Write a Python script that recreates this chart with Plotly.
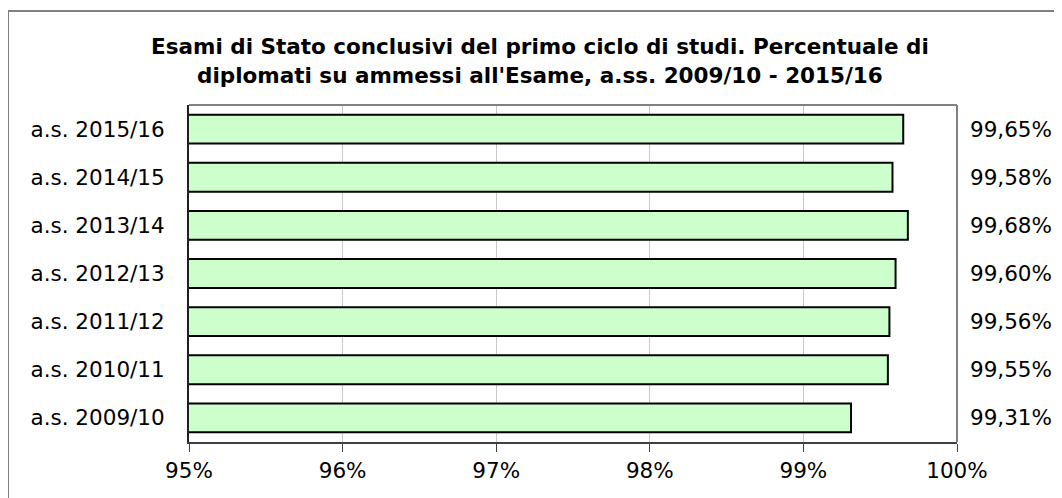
import plotly.graph_objects as go

# Data
categories = ["a.s. 2009/10", "a.s. 2010/11", "a.s. 2011/12", "a.s. 2012/13",
              "a.s. 2013/14", "a.s. 2014/15", "a.s. 2015/16"]
values = [99.31, 99.55, 99.56, 99.60, 99.68, 99.58, 99.65]
x_tickvals = [95, 96, 97, 98, 99, 100]
x_ticktext = ["95%", "96%", "97%", "98%", "99%", "100%"]
title_lines = ["Esami di Stato conclusivi del primo ciclo di studi. Percentuale di",
               "diplomati su ammessi all'Esame, a.ss. 2009/10 - 2015/16"]

OFF = 8  # page body margin
W, H = 1062 - OFF, 498 - OFF
# plot area in page pixels: x 189..957, y 105..442
L = 189 - OFF
T = 105 - OFF
R = W - (957 - OFF)
B = H - (442 - OFF)
PW = W - L - R
PH = H - T - B

def px(x):
    return (x - OFF - L) / PW

def py(y):
    return 1 - (y - OFF - T) / PH

FONT = "DejaVu Sans"

fig = go.Figure()
fig.add_trace(go.Bar(
    y=categories, x=values, orientation="h",
    marker=dict(color="#CCFFCC", line=dict(color="#000000", width=2)),
    hoverinfo="x+y",
))

annotations = []
for c, v in zip(categories, values):
    annotations.append(dict(
        xref="paper", yref="y", x=px(1011), y=c,
        text=f"{v:.2f}%".replace(".", ","), showarrow=False,
        xanchor="center", yanchor="middle",
        font=dict(family=FONT, size=21.5, color="#000000"),
    ))
annotations.append(dict(
    xref="paper", yref="paper", x=px(540), y=py(46), text="<b>" + title_lines[0] + "</b>",
    showarrow=False, xanchor="center", yanchor="middle",
    font=dict(family=FONT, size=21.5, color="#000000")))
annotations.append(dict(
    xref="paper", yref="paper", x=px(540), y=py(75), text="<b>" + title_lines[1] + "</b>",
    showarrow=False, xanchor="center", yanchor="middle",
    font=dict(family=FONT, size=21.5, color="#000000")))

shapes = [
    # outer frame (left and top edges visible)
    dict(type="line", xref="paper", yref="paper", x0=px(8), x1=px(1080), y0=py(11), y1=py(11),
         line=dict(color="#808080", width=2)),
    dict(type="line", xref="paper", yref="paper", x0=px(8), x1=px(8), y0=py(11), y1=py(520),
         line=dict(color="#808080", width=2)),
    # plot area top and right borders
    dict(type="line", xref="paper", yref="paper", x0=0, x1=1, y0=1, y1=1,
         line=dict(color="#808080", width=2)),
    dict(type="line", xref="paper", yref="paper", x0=1, x1=1, y0=0, y1=1,
         line=dict(color="#808080", width=2)),
]

fig.update_layout(
    width=W, height=H,
    margin=dict(l=L, r=R, t=T, b=B, autoexpand=False),
    paper_bgcolor="white", plot_bgcolor="white",
    showlegend=False, bargap=0.4,
    font=dict(family=FONT, size=21.5, color="#000000"),
    annotations=annotations, shapes=shapes,
)
fig.update_xaxes(
    range=[95, 100], tickvals=x_tickvals, ticktext=x_ticktext,
    showgrid=True, gridcolor="#C8C8C8", gridwidth=1,
    showline=True, linecolor="#404040", linewidth=2,
    ticks="outside", ticklen=8, tickcolor="#404040", tickwidth=1,
    tickfont=dict(family=FONT, size=21.5, color="#000000"),
    zeroline=False, fixedrange=True,
)
fig.update_yaxes(
    categoryorder="array", categoryarray=categories,
    showline=True, linecolor="#202020", linewidth=2,
    ticks="", ticklabelstandoff=18,
    tickfont=dict(family=FONT, size=21.5, color="#000000"),
    showgrid=False, fixedrange=True,
)

fig.write_html("out.html")
